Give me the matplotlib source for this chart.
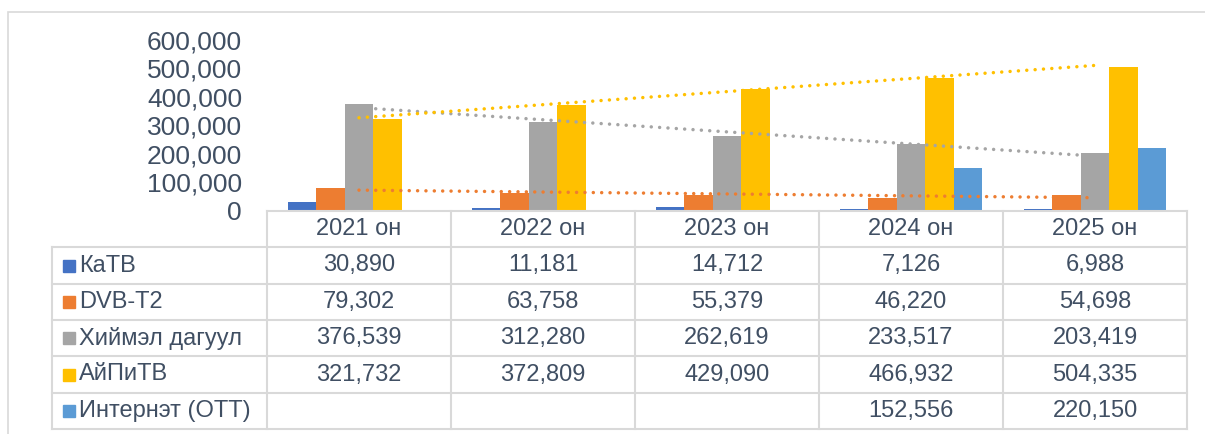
import numpy as np
import matplotlib
matplotlib.use('Agg')
import matplotlib.pyplot as plt
from matplotlib.patches import Rectangle

plt.rcParams['font.family'] = ['Liberation Sans', 'DejaVu Sans']

years = ['2021 он', '2022 он', '2023 он', '2024 он', '2025 он']
series = ['КаТВ', 'DVB-T2', 'Хиймэл дагуул', 'АйПиТВ', 'Интернэт (OTT)']
katv = [30890, 11181, 14712, 7126, 6988]
dvb = [79302, 63758, 55379, 46220, 54698]
sat = [376539, 312280, 262619, 233517, 203419]
iptv = [321732, 372809, 429090, 466932, 504335]
ott = [None, None, None, 152556, 220150]
colors = ['#4472C4', '#ED7D31', '#A5A5A5', '#FFC000', '#5B9BD5']
trend_series = [1, 2, 3]  # DVB-T2, satellite, IPTV have linear trendlines

data = [katv, dvb, sat, iptv, ott]
text_color = '#404F63'
grid_color = '#D9D9D9'

W, H = 1205, 434
fig = plt.figure(figsize=(W / 100, H / 100), dpi=100)

# outer frame
fig.patches.append(Rectangle((8 / W, -0.05), 1.1, 1 - 12 / H + 0.05,
                             transform=fig.transFigure, fill=False,
                             edgecolor=grid_color, lw=1.2))

# chart area
x0, x1 = 267, 1187
y_zero, y_top = 211, 40
ax = fig.add_axes([x0 / W, (H - y_zero) / H, (x1 - x0) / W, (y_zero - y_top) / H])
x = np.arange(len(years))
bw = 0.154
for j, vals in enumerate(data):
    v = np.array([np.nan if a is None else a for a in vals], dtype=float)
    ax.bar(x + (j - 2) * bw, v, bw, color=colors[j], zorder=2)

for j in trend_series:
    k, b = np.polyfit(x, data[j], 1)
    ax.plot(x, k * x + b, color=colors[j], lw=2.5, linestyle=(0, (0.01, 2.4)),
            dash_capstyle='round', zorder=3)

ax.set_xlim(-0.5, len(years) - 0.5)
ax.set_ylim(0, 600000)
ax.set_yticks(range(0, 600001, 100000))
ax.set_yticklabels([f'{t:,}' for t in range(0, 600001, 100000)])
ax.tick_params(axis='y', length=0, pad=18, labelsize=19, labelcolor=text_color)
ax.tick_params(axis='x', length=0, labelbottom=False)
for s in ax.spines.values():
    s.set_visible(False)
ax.patch.set_alpha(0)

# data table
t_left, t_top, t_bottom = 52, 211, 429
tax = fig.add_axes([t_left / W, (H - t_bottom) / H, (x1 - t_left) / W, (t_bottom - t_top) / H])
cw = (x1 - x0) / len(years)
xmin = -0.5 - (x0 - t_left) / cw
xmax = len(years) - 0.5
nrows = len(series) + 1
tax.set_xlim(xmin, xmax)
tax.set_ylim(nrows, 0)
tax.axis('off')

lw = 1.5
tax.plot([-0.5, xmax], [0, 0], color=grid_color, lw=lw, clip_on=False)
for r in range(1, nrows + 1):
    tax.plot([xmin, xmax], [r, r], color=grid_color, lw=lw, clip_on=False)
for c in range(len(years) + 1):
    tax.plot([c - 0.5, c - 0.5], [0, nrows], color=grid_color, lw=lw, clip_on=False)
tax.plot([xmin, xmin], [1, nrows], color=grid_color, lw=lw, clip_on=False)

for i, yl in enumerate(years):
    tax.text(i, 0.5, yl, ha='center', va='center', fontsize=17, color=text_color)

for j, name in enumerate(series):
    r = j + 1.5
    tax.plot([xmin + (68.5 - t_left) / cw], [r], marker='s', ms=9,
             color=colors[j], clip_on=False)
    tax.text(xmin + (79 - t_left) / cw, r, name, ha='left', va='center',
             fontsize=17, color=text_color)
    for i, v in enumerate(data[j]):
        if v is not None:
            tax.text(i, r, f'{v:,}', ha='center', va='center',
                     fontsize=17, color=text_color)

fig.savefig('out.png', dpi=100)
